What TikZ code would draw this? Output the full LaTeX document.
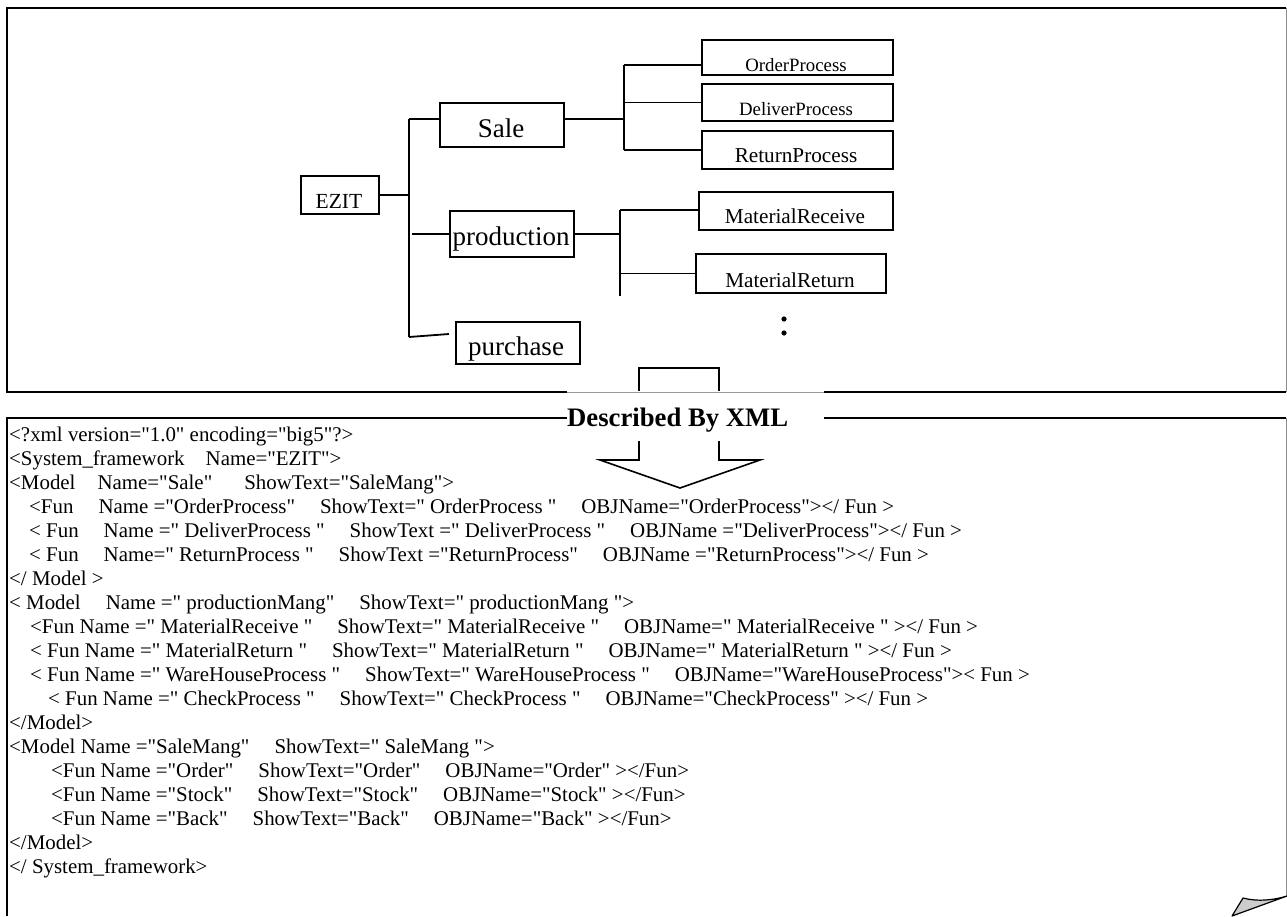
\documentclass[tikz,border=0pt]{standalone}
\usepackage{fontspec}
% plain family: keeps the straight " of the listing
\newfontfamily\tnr{Liberation Serif}
\newcommand\fsz[1]{\tnr\fontsize{#1pt}{#1pt}\selectfont}
\newcommand\gap[1][25]{\hspace{#1pt}}
\tikzset{
  frame/.style={line width=2.4pt, black},
  rframe/.style={line width=1pt, black!45},
  tbox/.style={draw, rectangle, line width=1.8pt, inner sep=0pt, anchor=north west},
  conn/.style={line width=1.8pt},
  lbl/.style={anchor=base, inner sep=0pt},
  xml/.style={anchor=base west, inner sep=0pt, font=\fsz{20.9}},
}
\newcommand\xl[3]{\node[xml] (x#1) at (#2,{441+24*(#1-1)}) {#3};}
\begin{document}
\begin{tikzpicture}[x=1pt,y=-1pt]
\useasboundingbox (0,0) rectangle (1287,916);

% upper frame: function tree
\draw[frame] (1286,8) -- (7,8) -- (7,392) -- (1286,392);
\draw[rframe] (1286,8) -- (1286,392);

% tree boxes
\node[tbox, minimum width=78,  minimum height=38] (ezit)    at (300,175) {};
\node[tbox, minimum width=124, minimum height=44] (sale)    at (439,102) {};
\node[tbox, minimum width=191, minimum height=35] (order)   at (701,39)  {};
\node[tbox, minimum width=191, minimum height=37] (deliver) at (701,83)  {};
\node[tbox, minimum width=191, minimum height=38] (return)  at (701,130) {};
\node[tbox, minimum width=124, minimum height=46] (prod)    at (449,210) {};
\node[tbox, minimum width=194, minimum height=38] (mrec)    at (698,191) {};
\node[tbox, minimum width=190, minimum height=39] (mret)    at (695,253) {};
\node[tbox, minimum width=124, minimum height=42] (purch)   at (455,321) {};

% box captions
\node[lbl, font=\fsz{21.5}] (ezitT)    at (339,208) {EZIT};
\node[lbl, font=\fsz{27}]   (saleT)    at (501,137) {Sale};
\node[lbl, font=\fsz{18.8}] (orderT)   at (796,71)  {OrderProcess};
\node[lbl, font=\fsz{18.8}] (deliverT) at (796,115) {DeliverProcess};
\node[lbl, font=\fsz{21.2}] (returnT)  at (796,162) {ReturnProcess};
\node[lbl, font=\fsz{27}]   (prodT)    at (511,245) {production};
\node[lbl, font=\fsz{21.2}] (mrecT)    at (795,223) {MaterialReceive};
\node[lbl, font=\fsz{21.2}] (mretT)    at (790,287) {MaterialReturn};
\node[lbl, font=\fsz{27}]   (purchT)   at (516,355) {purchase};

% trunk from EZIT
\coordinate (tTop) at (409,119);
\coordinate (tBot) at (409,337);
\coordinate (pEnd) at (449,334);
\draw[conn] (tTop) -- (tBot);
\draw[conn] (ezit.east) -- (ezit.east -| tTop);
\draw[conn] (tTop) -- (tTop -| sale.west);
\draw[conn] ([xshift=3pt]prod.west -| tTop) -- (prod.west);
\draw[conn] (tBot) -- (pEnd);

% Sale branch
\coordinate (sTop) at (624,65);
\coordinate (sBot) at (624,150);
\draw[conn] (tTop -| sale.east) -- (tTop -| sTop);
\draw[conn] (sTop) -- (sBot);
\draw[conn] (sTop) -- (sTop -| order.west);
\draw[conn] (deliver.west -| sTop) -- (deliver.west);
\draw[conn] (sBot) -- (sBot -| return.west);

% production branch (open at the bottom)
\coordinate (pTop) at (620,210);
\coordinate (pBot) at (620,296);
\draw[conn] (prod.east) -- (prod.east -| pTop);
\draw[conn] (pTop) -- (pBot);
\draw[conn] (pTop) -- (pTop -| mrec.west);
\draw[conn] (mret.west -| pTop) -- (mret.west);

% more entries follow
\fill (784,319) circle (2.6);
\fill (784,333) circle (2.6);

% lower frame: XML listing
\draw[frame] (7,916) -- (7,418) -- (1286,418);
\draw[rframe] (1286,418) -- (1286,897);

% block arrow between the two frames
\draw[line width=1.6pt, fill=white, line join=miter]
  (639,368) -- (719,368) -- (719,460) -- (760,460) -- (680,488)
  -- (600,460) -- (639,460) -- cycle;
\fill[white] (567,390.5) rectangle (824,441);
\draw[black!40, line width=0.8pt] (567,392) -- (824,392);
\node[anchor=base west, inner sep=0pt, font=\fsz{26.7}\bfseries] (desc) at (567,426) {Described By XML};

% folded page corner
\draw[line width=1.2pt, fill=black!20, line join=round]
  (1243,898) .. controls (1258,902) and (1274,900) .. (1287,896) -- (1232,916) -- cycle;

% XML listing
\xl{1}{9}{<?xml version="1.0" encoding="big5"?>}
\xl{2}{9}{<System\_framework\gap[21]Name="EZIT">}
\xl{3}{9}{<Model\gap[22]Name="Sale"\gap[32]ShowText="SaleMang">}
\xl{4}{29}{<Fun\gap Name ="OrderProcess"\gap ShowText=" OrderProcess "\gap OBJName="OrderProcess"></ Fun >}
\xl{5}{29}{< Fun\gap Name =" DeliverProcess "\gap ShowText =" DeliverProcess "\gap OBJName ="DeliverProcess"></ Fun >}
\xl{6}{29}{< Fun\gap Name=" ReturnProcess "\gap ShowText ="ReturnProcess"\gap OBJName ="ReturnProcess"></ Fun >}
\xl{7}{9}{</ Model >}
\xl{8}{9}{< Model\gap Name =" productionMang"\gap ShowText=" productionMang ">}
\xl{9}{30}{<Fun Name =" MaterialReceive "\gap ShowText=" MaterialReceive "\gap OBJName=" MaterialReceive " ></ Fun >}
\xl{10}{30}{< Fun Name =" MaterialReturn "\gap ShowText=" MaterialReturn "\gap OBJName=" MaterialReturn " ></ Fun >}
\xl{11}{30}{< Fun Name =" WareHouseProcess "\gap ShowText=" WareHouseProcess "\gap OBJName="WareHouseProcess">< Fun >}
\xl{12}{48}{< Fun Name =" CheckProcess "\gap ShowText=" CheckProcess "\gap OBJName="CheckProcess" ></ Fun >}
\xl{13}{9}{</Model>}
\xl{14}{9}{<Model Name ="SaleMang"\gap ShowText=" SaleMang ">}
\xl{15}{51}{<Fun Name ="Order"\gap ShowText="Order"\gap OBJName="Order" ></Fun>}
\xl{16}{51}{<Fun Name ="Stock"\gap ShowText="Stock"\gap OBJName="Stock" ></Fun>}
\xl{17}{51}{<Fun Name ="Back"\gap ShowText="Back"\gap OBJName="Back" ></Fun>}
\xl{18}{9}{</Model>}
\xl{19}{9}{</ System\_framework>}
\end{tikzpicture}
\end{document}
